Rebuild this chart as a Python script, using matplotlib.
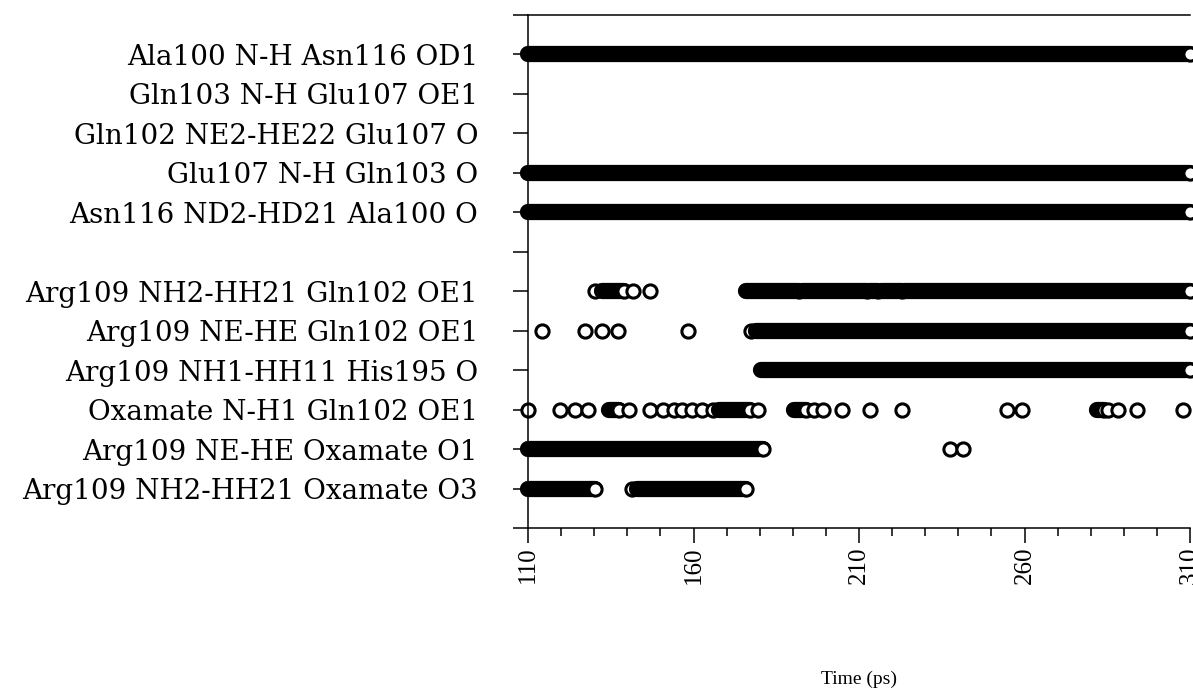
import matplotlib
matplotlib.use("Agg")
import matplotlib.pyplot as plt

plt.rcParams['font.family'] = ['Liberation Serif', 'DejaVu Serif']

# hydrogen bond labels, from bottom row to top row (7 is the empty gap row)
labels = ["Arg109 NH2-HH21 Oxamate O3",
          "Arg109 NE-HE Oxamate O1",
          "Oxamate N-H1 Gln102 OE1",
          "Arg109 NH1-HH11 His195 O",
          "Arg109 NE-HE Gln102 OE1",
          "Arg109 NH2-HH21 Gln102 OE1",
          "",
          "Asn116 ND2-HD21 Ala100 O",
          "Glu107 N-H Gln103 O",
          "Gln102 NE2-HE22 Glu107 O",
          "Gln103 N-H Glu107 OE1",
          "Ala100 N-H Asn116 OD1"]

# time spans (ps) where each bond is present; (t, t) is a single frame
nh2_ox_o3 = [(110, 130.2), (141.5, 141.5), (143, 176)]
ne_ox_o1 = [(110, 181), (237.5, 237.5), (241.4, 241.4)]
ox_nh1_gln = [(110, 110), (119.7, 119.7), (124.2, 124.2), (128.1, 128.1),
              (134.5, 137.5), (140.5, 140.5), (147, 147), (150.8, 150.8),
              (154, 154), (156.5, 156.5), (159.5, 159.5), (162.5, 162.5),
              (165.8, 165.8), (167.8, 177), (179.5, 179.5), (190.5, 194),
              (196.3, 196.3), (199.1, 199.1), (204.9, 204.9), (213.3, 213.3),
              (223, 223), (254.7, 254.7), (259.2, 259.2), (282, 284),
              (285.3, 285.3), (288.2, 288.2), (294, 294), (307.9, 307.9)]
nh1_his195 = [(180.4, 310)]
ne_gln102 = [(114.2, 114.2), (127.2, 127.2), (132.4, 132.4), (137.2, 137.2),
             (158.3, 158.3), (177.3, 177.3), (179, 310)]
nh2_gln102 = [(130.2, 130.2), (132.5, 139), (141.7, 141.7), (146.9, 146.9),
              (175.9, 192), (192.7, 212.3), (213, 215.8), (216.5, 223),
              (223.7, 310)]
asn116_ala100 = [(110, 310)]
glu107_gln103 = [(110, 310)]
gln102_glu107 = []
gln103_glu107 = []
ala100_asn116 = [(110, 310)]

rows = [nh2_ox_o3, ne_ox_o1, ox_nh1_gln, nh1_his195, ne_gln102, nh2_gln102,
        [], asn116_ala100, glu107_gln103, gln102_glu107, gln103_glu107,
        ala100_asn116]

fig = plt.figure(figsize=(11.93, 6.91), dpi=100)
ax = fig.add_axes([0.4426, 0.2359, 0.5549, 0.7424])

ms = 9.5
mew = 2.2
for y, segs in enumerate(rows, start=1):
    for s, e in segs:
        if e > s:
            ax.plot([s, e], [y, y], color='k', lw=ms + mew,
                    solid_capstyle='round', clip_on=False)
        ax.plot([e], [y], 'o', mfc='white', mec='k', ms=ms, mew=mew,
                clip_on=False)

ax.set_xlim(110, 310)
ax.set_ylim(0, 13)

ax.set_yticks(range(14))
ax.set_yticklabels([""] + labels + [""], fontsize=20,
                   family=['DejaVu Serif'])
ax.set_xticks([110, 160, 210, 260, 310])
ax.set_xticks(range(110, 311, 10), minor=True)
ax.set_xticklabels(["110", "160", "210", "260", "310"], rotation=90, fontsize=18)

ax.tick_params(axis='y', direction='out', length=11, width=1.1, pad=25)
ax.tick_params(axis='x', which='major', direction='out', length=11, width=1.1, pad=2)
ax.tick_params(axis='x', which='minor', direction='out', length=6, width=1.1)

ax.spines['right'].set_visible(False)
for side in ['left', 'bottom', 'top']:
    ax.spines[side].set_linewidth(1.1)

ax.set_xlabel("Time (ps)", fontsize=14, labelpad=63)

fig.savefig("out.png", dpi=100)
